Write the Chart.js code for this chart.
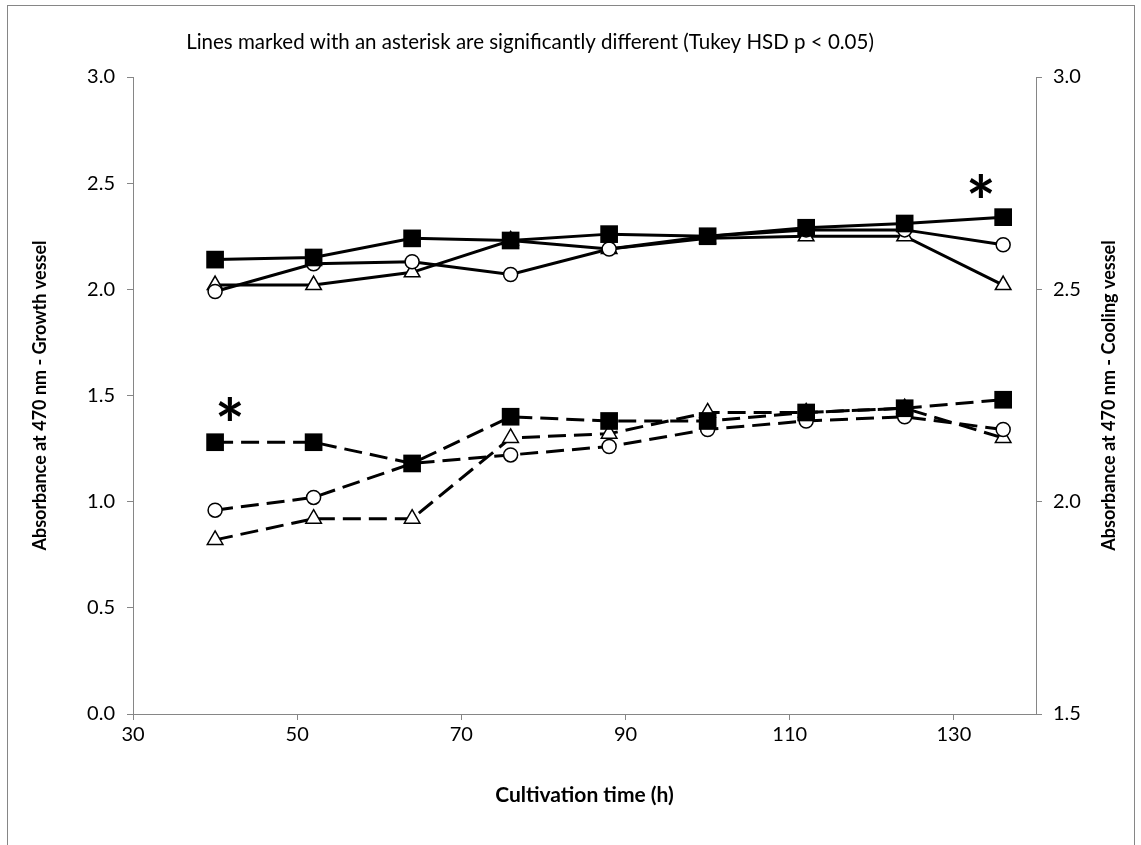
<!DOCTYPE html>
<html lang="en">
<head>
  <meta charset="UTF-8" />
  <title>Absorbance at 470 nm</title>
  <script src="https://cdn.jsdelivr.net/npm/chart.js"></script>
  <style>
    body {
      margin: 0;
      padding: 0;
      background-color: #fff;
    }

    .chart-box {
      position: relative;
      width: 1141px;
      height: 845px;
    }
  </style>
</head>
<body>

  <div class="chart-box">
    <canvas id="absChart"></canvas>
  </div>

  <script>
    // cultivation time (h)
    const hours = [40, 52, 64, 76, 88, 100, 112, 124, 136];
    const xTicks = [30, 50, 70, 90, 110, 130];

    // growth vessel, left axis (solid lines)
    const growthSquare = [2.14, 2.15, 2.24, 2.23, 2.26, 2.25, 2.29, 2.31, 2.34];
    const growthCircle = [1.99, 2.12, 2.13, 2.07, 2.19, 2.25, 2.28, 2.28, 2.21];
    const growthTriangle = [2.02, 2.02, 2.08, 2.23, 2.19, 2.24, 2.25, 2.25, 2.02];

    // cooling vessel, right axis (dashed lines)
    const coolingSquare = [2.14, 2.14, 2.09, 2.20, 2.19, 2.19, 2.21, 2.22, 2.24];
    const coolingCircle = [1.98, 2.01, 2.09, 2.11, 2.13, 2.17, 2.19, 2.20, 2.17];
    const coolingTriangle = [1.91, 1.96, 1.96, 2.15, 2.16, 2.21, 2.21, 2.22, 2.15];

    // asterisks, in left axis units
    const starX = [133.3, 41.8];
    const starY = [2.487, 1.437];

    const noteText = 'Lines marked with an asterisk are significantly different (Tukey HSD p < 0.05)';
    const leftTitle = 'Absorbance at 470 nm - Growth vessel';
    const rightTitle = 'Absorbance at 470 nm - Cooling vessel';
    const xTitle = 'Cultivation time (h)';

    const FONT = "'Lato', 'Open Sans', sans-serif";
    const AXIS_GREY = '#868686';

    function toPoints(ys) {
      return hours.map((h, i) => ({ x: h, y: ys[i] }));
    }

    function series(label, ys, axis, style, dashed) {
      return {
        label: label,
        data: toPoints(ys),
        yAxisID: axis,
        borderColor: '#000',
        borderWidth: 3,
        borderDash: dashed ? [18, 8] : [],
        pointStyle: style,
        pointRadius: style === 'rect' ? 12.5 : (style === 'triangle' ? 9 : 7),
        pointBackgroundColor: style === 'rect' ? '#000' : '#fff',
        pointBorderColor: '#000',
        pointBorderWidth: style === 'rect' ? 0 : 1.5,
        tension: 0,
        fill: false
      };
    }

    const extras = {
      id: 'extras',
      beforeDraw(chart) {
        const ctx = chart.ctx;
        ctx.save();
        ctx.fillStyle = '#fff';
        ctx.fillRect(0, 0, chart.width, chart.height);
        ctx.strokeStyle = AXIS_GREY;
        ctx.lineWidth = 1;
        ctx.strokeRect(7.5, 5.5, 1127, 850);
        ctx.restore();
      },
      afterDraw(chart) {
        const ctx = chart.ctx;
        const area = chart.chartArea;
        ctx.save();
        ctx.fillStyle = '#000';

        // note on top
        ctx.font = '20.5px ' + FONT;
        ctx.textAlign = 'center';
        ctx.textBaseline = 'middle';
        ctx.fillText(noteText, 530, 42);

        // right axis title, reading upwards like the left one
        ctx.font = 'bold 18px ' + FONT;
        ctx.translate(1109, (area.top + area.bottom) / 2);
        ctx.rotate(-Math.PI / 2);
        ctx.fillText(rightTitle, 0, 0);
        ctx.setTransform(1, 0, 0, 1, 0, 0);

        // asterisks
        ctx.font = 'bold 70px ' + FONT;
        ctx.textBaseline = 'alphabetic';
        const xs = chart.scales.x;
        const ys = chart.scales.y;
        starX.forEach((sx, i) => {
          const px = xs.getPixelForValue(sx);
          const py = ys.getPixelForValue(starY[i]);
          const m = ctx.measureText('*');
          const mid = (m.actualBoundingBoxAscent - m.actualBoundingBoxDescent) / 2;
          ctx.fillText('*', px, py + mid);
        });
        ctx.restore();
      }
    };

    const tickFont = { family: FONT, size: 20 };

    new Chart(document.getElementById('absChart'), {
      type: 'line',
      data: {
        datasets: [
          series('Growth square', growthSquare, 'y', 'rect', false),
          series('Growth circle', growthCircle, 'y', 'circle', false),
          series('Growth triangle', growthTriangle, 'y', 'triangle', false),
          series('Cooling square', coolingSquare, 'y2', 'rect', true),
          series('Cooling circle', coolingCircle, 'y2', 'circle', true),
          series('Cooling triangle', coolingTriangle, 'y2', 'triangle', true)
        ]
      },
      options: {
        responsive: true,
        maintainAspectRatio: false,
        animation: false,
        layout: { padding: { top: 77, left: 0, right: 0, bottom: 0 } },
        plugins: {
          legend: { display: false },
          tooltip: { enabled: false }
        },
        scales: {
          x: {
            type: 'linear',
            position: 'bottom',
            min: 30,
            max: 140,
            afterBuildTicks: s => { s.ticks = xTicks.map(v => ({ value: v })); },
            afterFit: s => { s.height = 131; },
            ticks: { font: tickFont, color: '#000', padding: 3, maxRotation: 0 },
            grid: { drawOnChartArea: false, tickLength: 6, color: AXIS_GREY },
            border: { color: AXIS_GREY },
            title: {
              display: true,
              text: xTitle,
              color: '#000',
              font: { family: FONT, size: 21, weight: 'bold' },
              padding: { top: 0, bottom: 37 }
            }
          },
          y: {
            position: 'left',
            min: 0,
            max: 3,
            afterFit: s => { s.width = 133; },
            ticks: {
              stepSize: 0.5,
              font: tickFont,
              color: '#000',
              padding: 12,
              callback: v => v.toFixed(1)
            },
            grid: { drawOnChartArea: false, tickLength: 6, color: AXIS_GREY },
            border: { color: AXIS_GREY },
            title: {
              display: true,
              text: leftTitle,
              color: '#000',
              font: { family: FONT, size: 18, weight: 'bold' },
              padding: { top: 29, bottom: 0 }
            }
          },
          y2: {
            position: 'right',
            min: 1.5,
            max: 3,
            afterFit: s => { s.width = 105; },
            ticks: {
              stepSize: 0.5,
              font: tickFont,
              color: '#000',
              padding: 11,
              callback: v => v.toFixed(1)
            },
            grid: { drawOnChartArea: false, tickLength: 6, color: AXIS_GREY },
            border: { color: AXIS_GREY }
          }
        }
      },
      plugins: [extras]
    });
  </script>

</body>
</html>
